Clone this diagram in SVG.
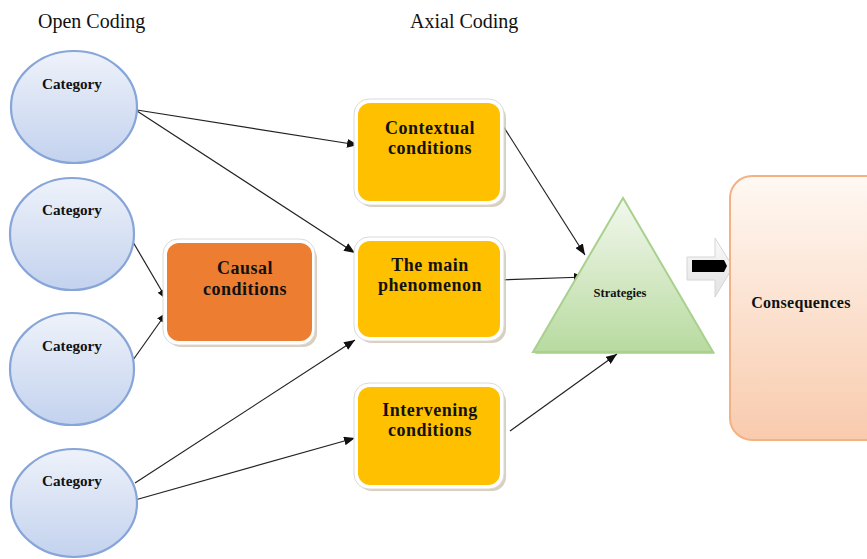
<svg xmlns="http://www.w3.org/2000/svg" width="867" height="559" viewBox="0 0 867 559">
<style>
.hdr{font-family:"Liberation Serif",serif;font-size:20px;fill:#111}
.cat{font-family:"Liberation Serif",serif;font-weight:bold;font-size:15.2px;fill:#111;text-anchor:middle}
.lbl{font-family:"Liberation Serif",serif;font-weight:bold;font-size:18px;fill:#111;text-anchor:middle;letter-spacing:0.5px}
.ell{fill:url(#gEll);stroke:#87A5D8;stroke-width:2.2}
.shadow{fill:#C9BBA0;opacity:0.7}
.frame{fill:#FFFFFF;stroke:#DADADA;stroke-width:1}
.yel{fill:#FFC000}
.org{fill:#ED7D31}
.con{stroke:#222;stroke-width:1.2;fill:none;marker-end:url(#arr)}
</style>
<defs>
<linearGradient id="gEll" x1="0" y1="0" x2="0" y2="1">
<stop offset="0" stop-color="#EEF2FA"/>
<stop offset="1" stop-color="#C3D2EE"/>
</linearGradient>
<linearGradient id="gTri" x1="0" y1="0" x2="0" y2="1">
<stop offset="0" stop-color="#F2F8EE"/>
<stop offset="1" stop-color="#B8DA9F"/>
</linearGradient>
<linearGradient id="gCon" x1="0" y1="0" x2="0" y2="1">
<stop offset="0" stop-color="#FFF8F3"/>
<stop offset="1" stop-color="#F8CBAD"/>
</linearGradient>
<linearGradient id="gArr" x1="0" y1="0" x2="0" y2="1">
<stop offset="0" stop-color="#FAFAFA"/>
<stop offset="1" stop-color="#E2E2E2"/>
</linearGradient>
<marker id="arr" viewBox="0 0 10 8" refX="10" refY="4" markerWidth="11" markerHeight="9" markerUnits="userSpaceOnUse" orient="auto">
<path d="M0,0 L10,4 L0,8 Z" fill="#111"/>
</marker>
</defs>

<g id="headers">
<text class="hdr" x="38" y="28">Open Coding</text>
<text class="hdr" x="410" y="28">Axial Coding</text>
</g>

<g id="connectors">
<line class="con" x1="137" y1="110" x2="358" y2="145"/>
<line class="con" x1="137" y1="111" x2="355" y2="253"/>
<line class="con" x1="133" y1="242" x2="167" y2="300"/>
<line class="con" x1="133" y1="360" x2="167" y2="312"/>
<line class="con" x1="135" y1="483" x2="355" y2="340"/>
<line class="con" x1="135" y1="500" x2="355" y2="438"/>
<line class="con" x1="498" y1="118" x2="585" y2="255"/>
<line class="con" x1="498" y1="280" x2="585" y2="277"/>
<line class="con" x1="510" y1="431" x2="617" y2="354"/>
</g>

<g id="cat1">
<ellipse class="ell" cx="74" cy="107" rx="63" ry="56"/>
<text class="cat" x="72" y="89">Category</text>
</g>
<g id="cat2">
<ellipse class="ell" cx="72" cy="234" rx="62" ry="56"/>
<text class="cat" x="72" y="215">Category</text>
</g>
<g id="cat3">
<ellipse class="ell" cx="72" cy="369" rx="62" ry="56"/>
<text class="cat" x="72" y="351">Category</text>
</g>
<g id="cat4">
<ellipse class="ell" cx="74" cy="503" rx="63" ry="54"/>
<text class="cat" x="72" y="486">Category</text>
</g>

<g id="causal">
<rect class="shadow" x="167" y="244" width="150" height="103" rx="14"/>
<rect class="frame" x="163" y="239" width="152" height="106" rx="15"/>
<rect class="org" x="167" y="243" width="145" height="98" rx="12"/>
<text class="lbl" x="245" y="274">Causal</text>
<text class="lbl" x="245" y="295">conditions</text>
</g>

<g id="contextual">
<rect class="shadow" x="358" y="104" width="148" height="103" rx="14"/>
<rect class="frame" x="354" y="99" width="150" height="106" rx="15"/>
<rect class="yel" x="358" y="103" width="142" height="98" rx="12"/>
<text class="lbl" x="430" y="134">Contextual</text>
<text class="lbl" x="430" y="154">conditions</text>
</g>

<g id="main">
<rect class="shadow" x="358" y="242" width="148" height="101" rx="14"/>
<rect class="frame" x="354" y="237" width="150" height="104" rx="15"/>
<rect class="yel" x="358" y="241" width="142" height="96" rx="12"/>
<text class="lbl" x="430" y="271">The main</text>
<text class="lbl" x="430" y="291">phenomenon</text>
</g>

<g id="intervening">
<rect class="shadow" x="358" y="388" width="148" height="103" rx="14"/>
<rect class="frame" x="354" y="383" width="150" height="106" rx="15"/>
<rect class="yel" x="358" y="387" width="142" height="98" rx="12"/>
<text class="lbl" x="430" y="416">Intervening</text>
<text class="lbl" x="430" y="436">conditions</text>
</g>

<g id="strategies">
<polygon points="623,200 535,354 715,354" fill="#9DB88A" opacity="0.6"/>
<polygon points="623,198 533,352 713,352" fill="url(#gTri)" stroke="#A9D18E" stroke-width="2"/>
<text x="620" y="297" font-family="'Liberation Serif',serif" font-weight="bold" font-size="12.5px" fill="#111" text-anchor="middle">Strategies</text>
</g>

<g id="block-arrow">
<polygon points="687,257 715,257 715,238 733,267 715,297 715,280 687,280" fill="url(#gArr)" stroke="#D5D5D5" stroke-width="1"/>
<polygon points="692,260 724,260 727,266 724,272 692,272" fill="#000"/>
</g>

<g id="consequences">
<rect x="730" y="176" width="160" height="264" rx="22" fill="url(#gCon)" stroke="#F4B183" stroke-width="2"/>
<text x="801" y="308" font-family="'Liberation Serif',serif" font-weight="bold" font-size="16px" fill="#111" text-anchor="middle" letter-spacing="0.3">Consequences</text>
</g>
</svg>
